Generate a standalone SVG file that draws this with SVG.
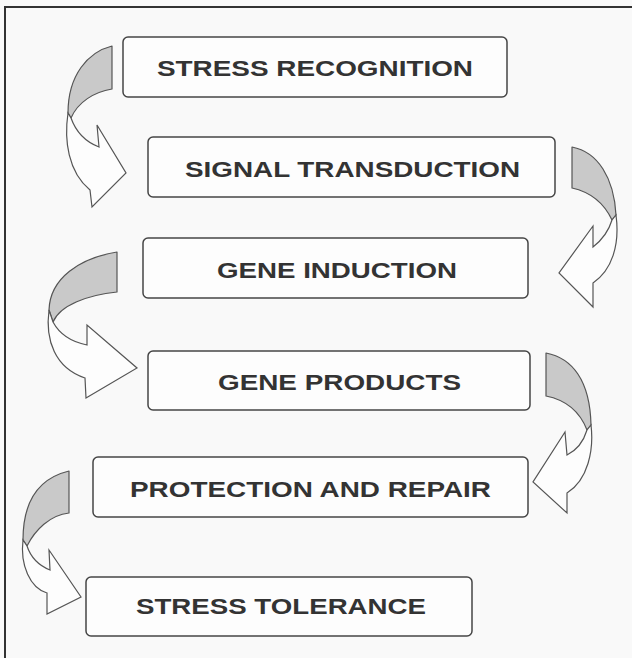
<svg xmlns="http://www.w3.org/2000/svg" width="632" height="658" viewBox="0 0 632 658">
<style>
.box{fill:#fdfdfd;stroke:#454545;stroke-width:1.5}
.lbl{font-family:"Liberation Sans",Arial,sans-serif;font-weight:bold;font-size:22.5px;fill:#333;text-anchor:middle}
.g{fill:#c9c9c9;stroke:#555;stroke-width:1.2;stroke-linejoin:round}
.w{fill:#fdfdfd;stroke:#555;stroke-width:1.2;stroke-linejoin:miter}
</style>
<rect x="0" y="0" width="632" height="658" fill="#f9f9f9"/>
<path d="M5,658 L5,7 L632,7" fill="none" stroke="#333" stroke-width="2"/>
<g id="connectors">
  <g id="arrow1">
    <path class="g" d="M112,46 C88,52 68,75 68,113 L71,118 C78,102 94,92 112,89 Z"/>
    <path class="w" d="M68,113 C64,140 68,172 90,190 L92,207 L126,173 L97,125 L99,147 C86,142 76,132 71,118 Z"/>
  </g>
  <g id="arrow2">
    <path class="g" d="M572,147 C598,152 614,178 616,215 L612,220 C604,203 590,192 572,188 Z"/>
    <path class="w" d="M616,215 C620,245 612,270 593,283 L593,307 L559,273 L593,226 L593,247 C602,240 609,230 612,220 Z"/>
  </g>
  <g id="arrow3">
    <path class="g" d="M117,252 C80,258 50,278 49,310 L53,322 C60,305 88,295 117,292 Z"/>
    <path class="w" d="M49,310 C45,340 55,368 85,378 L86,398 L137,368 L87,325 L87,345 C72,342 60,335 53,322 Z"/>
  </g>
  <g id="arrow4">
    <path class="g" d="M546,353 C572,358 590,380 591,425 L587,430 C580,412 566,400 546,396 Z"/>
    <path class="w" d="M591,425 C594,450 588,480 567,493 L567,513 L533,482 L565,432 L567,455 C577,450 584,440 587,430 Z"/>
  </g>
  <g id="arrow5">
    <path class="g" d="M69,471 C40,478 23,500 23,540 L27,546 C35,530 50,515 69,513 Z"/>
    <path class="w" d="M23,540 C20,565 30,588 47,593 L47,614 L81,597 L49,550 L50,570 C40,566 31,558 27,546 Z"/>
  </g>
</g>
<g id="node-stress-recognition">
  <rect class="box" x="123" y="37" width="384" height="60" rx="5"/>
  <text class="lbl" x="315" y="76" textLength="316" lengthAdjust="spacingAndGlyphs">STRESS RECOGNITION</text>
</g>
<g id="node-signal-transduction">
  <rect class="box" x="148" y="137" width="407" height="60" rx="5"/>
  <text class="lbl" x="352.5" y="177" textLength="335" lengthAdjust="spacingAndGlyphs">SIGNAL TRANSDUCTION</text>
</g>
<g id="node-gene-induction">
  <rect class="box" x="143" y="238" width="385" height="60" rx="5"/>
  <text class="lbl" x="337" y="278" textLength="240" lengthAdjust="spacingAndGlyphs">GENE INDUCTION</text>
</g>
<g id="node-gene-products">
  <rect class="box" x="148" y="351" width="382" height="59" rx="5"/>
  <text class="lbl" x="339.5" y="390" textLength="243" lengthAdjust="spacingAndGlyphs">GENE PRODUCTS</text>
</g>
<g id="node-protection-repair">
  <rect class="box" x="93" y="457" width="435" height="60" rx="5"/>
  <text class="lbl" x="310.5" y="497" textLength="361" lengthAdjust="spacingAndGlyphs">PROTECTION AND REPAIR</text>
</g>
<g id="node-stress-tolerance">
  <rect class="box" x="86" y="577" width="386" height="59" rx="5"/>
  <text class="lbl" x="281" y="614" textLength="290" lengthAdjust="spacingAndGlyphs">STRESS TOLERANCE</text>
</g>
</svg>
